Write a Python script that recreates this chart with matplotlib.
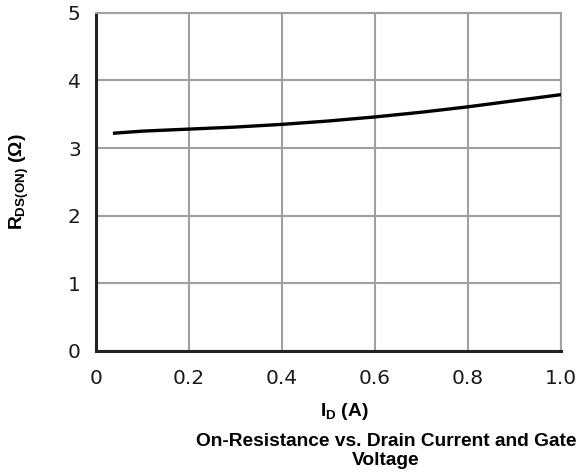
import matplotlib
matplotlib.use('Agg')
import matplotlib.pyplot as plt

# drain current (A) vs on-resistance (ohm)
current = [0.04, 0.1, 0.2, 0.3, 0.4, 0.5, 0.6, 0.7, 0.8, 0.9, 1.0]
resistance = [3.22, 3.25, 3.28, 3.31, 3.35, 3.40, 3.46, 3.53, 3.61, 3.70, 3.79]

x_ticks = [0, 0.2, 0.4, 0.6, 0.8, 1.0]
x_tick_labels = ['0', '0.2', '0.4', '0.6', '0.8', '1.0']
y_ticks = [0, 1, 2, 3, 4, 5]

plt.rcParams['mathtext.fontset'] = 'custom'
plt.rcParams['mathtext.rm'] = 'Liberation Sans:bold'
plt.rcParams['mathtext.it'] = 'Liberation Sans:bold'
plt.rcParams['mathtext.bf'] = 'Liberation Sans:bold'

fig = plt.figure(figsize=(5.86, 4.74), dpi=100)
ax = fig.add_axes([0.1638, 0.2605, 0.7932, 0.7121])

ax.plot(current, resistance, color='black', lw=2.4, zorder=3)

ax.set_xlim(0, 1.0)
ax.set_ylim(0, 5)
ax.set_xticks(x_ticks)
ax.set_xticklabels(x_tick_labels)
ax.set_yticks(y_ticks)
ax.tick_params(length=0, labelsize=14.5, pad=11, colors='#1a1a1a')
ax.tick_params(axis='x', pad=13)
ax.grid(color='#a0a0a0', lw=1.5)
ax.set_axisbelow(True)

for side in ['top', 'right']:
    ax.spines[side].set_color('#a0a0a0')
    ax.spines[side].set_linewidth(1.5)
for side in ['left', 'bottom']:
    ax.spines[side].set_color('#222222')
    ax.spines[side].set_linewidth(2.2)

label_style = dict(fontsize=13.8, fontweight='bold', family='Liberation Sans')
fig.text(19 / 586, 1 - 182 / 474, r'R$_{\mathrm{DS(ON)}}$ (Ω)', rotation=90,
         ha='center', va='center', **label_style)
fig.text(344 / 586, 1 - 412 / 474, r'I$_{\mathrm{D}}$ (A)',
         ha='center', va='center', **label_style)
fig.text(386 / 586, 1 - 451 / 474,
         'On-Resistance vs. Drain Current and Gate\nVoltage',
         ha='center', va='center', linespacing=1.1, **label_style)

fig.savefig('out.png', dpi=100)
